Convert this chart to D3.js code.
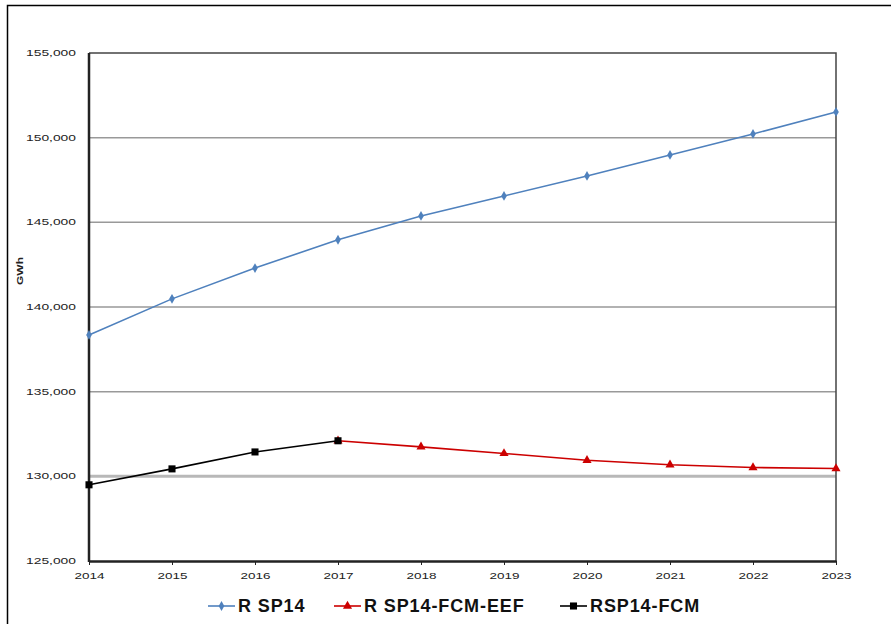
<!DOCTYPE html>
<html><head><meta charset="utf-8">
<script src="https://cdn.jsdelivr.net/npm/d3@7"></script>
<style>body{margin:0;background:#fff}svg{display:block}</style>
</head><body>
<svg id="c" width="891" height="624"></svg>
<script>
const years = [2014,2015,2016,2017,2018,2019,2020,2021,2022,2023];
const rsp14 = [138350,140480,142300,143970,145380,146560,147740,148980,150220,151520];
const fcmYears = [2014,2015,2016,2017];
const rsp14FCM = [129500,130440,131440,132100];
const eefYears = [2017,2018,2019,2020,2021,2022,2023];
const rsp14FCMEEF = [132100,131740,131350,130950,130680,130520,130460];
const yTicks = [125000,130000,135000,140000,145000,150000,155000];
const seriesNames = ["R SP14","R SP14-FCM-EEF","RSP14-FCM"];
const seriesColors = ["#4f81bd","#cc0000","#000000"];

const svg = d3.select("#c");
const L=89,R=836,T=53,B=561;
const FONT = "Arial, Liberation Sans, sans-serif";
const x = d3.scaleLinear().domain([2014,2023]).range([L,R]);
const y = d3.scaleLinear().domain([125000,155000]).range([B,T]);

// outer frame
svg.append("path").attr("d","M7.5,630 V5.5 H900").attr("fill","none").attr("stroke","#000").attr("stroke-width",1.5);

// gridlines
svg.append("g").selectAll("line").data(yTicks.filter(d=>d>125000&&d<155000)).join("line")
  .attr("x1",L).attr("x2",R).attr("y1",d=>y(d)).attr("y2",d=>y(d))
  .attr("stroke",d=>d===130000?"#b8b8b8":"#999").attr("stroke-width",d=>d===130000?3:1.5);

// plot frame top/right
svg.append("path").attr("d",`M${L},${T} H${R} V${B}`).attr("fill","none").attr("stroke","#444").attr("stroke-width",1.5);

// y axis labels
svg.append("g").selectAll("text").data(yTicks).join("text")
  .attr("x",76).attr("y",d=>y(d)).attr("dy","0.35em").attr("text-anchor","end")
  .attr("font-family",FONT).attr("font-size",9).attr("fill","#222")
  .attr("textLength",50).attr("lengthAdjust","spacingAndGlyphs")
  .text(d=>d3.format(",")(d));

// x axis
const xa = svg.append("g").attr("transform",`translate(0,${B})`)
  .call(d3.axisBottom(x).tickValues(years).tickFormat(d3.format("d")).tickSize(4).tickSizeOuter(0));
xa.select(".domain").attr("stroke","#222").attr("stroke-width",2.5);
xa.selectAll(".tick line").attr("stroke","#222");
xa.selectAll("text").attr("font-family",FONT).attr("font-size",9).attr("fill","#222").attr("dy","1.2em")
  .attr("textLength",30).attr("lengthAdjust","spacingAndGlyphs");

// y axis line
svg.append("line").attr("x1",L).attr("x2",L).attr("y1",T).attr("y2",B+1).attr("stroke","#222").attr("stroke-width",2.5);

// y title
svg.append("text").attr("transform","translate(23,271) rotate(-90)").attr("text-anchor","middle")
  .attr("font-family",FONT).attr("font-size",9).attr("font-weight","bold").attr("fill","#222")
  .attr("textLength",28).attr("lengthAdjust","spacingAndGlyphs").text("GWh");

const line = d3.line().x(d=>x(d[0])).y(d=>y(d[1]));
function drawSeries(xs, vs, color, shape, size){
  const data = xs.map((d,i)=>[d,vs[i]]);
  svg.append("path").datum(data).attr("d",line).attr("fill","none").attr("stroke",color).attr("stroke-width",1.6);
  svg.append("g").selectAll("path").data(data).join("path")
    .attr("transform",d=>`translate(${x(d[0])},${y(d[1])})`)
    .attr("d",d3.symbol().type(shape).size(size)).attr("fill",color);
}
drawSeries(years, rsp14, seriesColors[0], d3.symbolDiamond, 28);
drawSeries(eefYears, rsp14FCMEEF, seriesColors[1], d3.symbolTriangle, 36);
drawSeries(fcmYears, rsp14FCM, seriesColors[2], d3.symbolSquare, 50);

// legend
const legendX = [208,334,560];
const shapes = [[d3.symbolDiamond,28],[d3.symbolTriangle,36],[d3.symbolSquare,50]];
const lg = svg.append("g");
seriesNames.forEach((n,i)=>{
  const g = lg.append("g").attr("transform",`translate(${legendX[i]},606)`);
  g.append("line").attr("x1",0).attr("x2",27).attr("stroke",seriesColors[i]).attr("stroke-width",1.6);
  g.append("path").attr("transform","translate(13.5,0)").attr("d",d3.symbol().type(shapes[i][0]).size(shapes[i][1])).attr("fill",seriesColors[i]);
  g.append("text").attr("x",30).attr("dy","0.36em").attr("font-family",FONT)
   .attr("font-size",18).attr("font-weight","bold").attr("letter-spacing",0.9).attr("fill","#111").text(n);
});
</script>
</body></html>
